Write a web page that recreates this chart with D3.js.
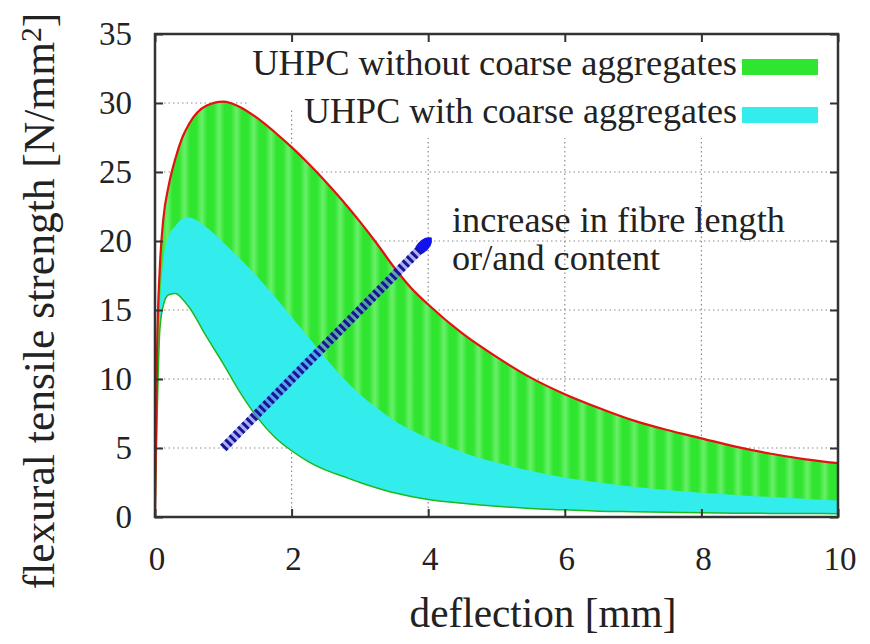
<!DOCTYPE html>
<html>
<head>
<meta charset="utf-8">
<script src="https://cdn.jsdelivr.net/npm/d3@7"></script>
<style>
  body { margin: 0; background: #fff; }
  svg { display: block; }
</style>
</head>
<body>
<div id="chart"></div>
<script>
// deflection [mm]
var deflection = [0, 0.03, 0.07, 0.12, 0.2, 0.3, 0.4, 0.5, 0.75, 1.0, 1.25, 1.5, 1.75, 2.0, 2.25, 2.5, 2.75, 3.0, 3.25, 3.5, 3.75, 4.0, 4.5, 5.0, 5.5, 6.0, 6.5, 7.0, 7.5, 8.0, 8.5, 9.0, 9.5, 10];
// upper envelope, without coarse aggregates (red line)
var upperStrength = [0, 12, 18, 21.5, 24, 26, 27.5, 28.5, 29.8, 30.1, 29.7, 28.9, 27.9, 26.8, 25.6, 24.3, 22.9, 21.4, 19.8, 18.1, 16.6, 15.4, 13.3, 11.6, 10.1, 8.9, 7.9, 7.0, 6.3, 5.7, 5.1, 4.6, 4.2, 3.9];
// upper envelope, with coarse aggregates
var middleStrength = [0, 8, 15, 18.5, 20.3, 21.1, 21.6, 21.7, 21.0, 19.9, 18.7, 17.4, 16.0, 14.5, 13.0, 11.5, 10.1, 8.9, 7.9, 7.0, 6.3, 5.7, 4.7, 3.95, 3.35, 2.85, 2.5, 2.2, 1.95, 1.75, 1.6, 1.45, 1.33, 1.2];
// lower envelope
var lowerStrength = [0, 7, 13.5, 15.3, 16.1, 16.2, 15.8, 15.2, 13.1, 11.1, 9.0, 7.2, 5.8, 4.8, 4.0, 3.4, 2.95, 2.5, 2.1, 1.75, 1.48, 1.27, 1.0, 0.78, 0.62, 0.52, 0.42, 0.38, 0.34, 0.3, 0.28, 0.26, 0.25, 0.24];

var xTicks = [0, 2, 4, 6, 8, 10];
var yTicks = [0, 5, 10, 15, 20, 25, 30, 35];
var legendLabels = ["UHPC without coarse aggregates", "UHPC with coarse aggregates"];
var noteLines = ["increase in fibre length", "or/and content"];
var arrowFrom = [1, 5];
var arrowTo = [4, 20];

var width = 870, height = 644;
var margin = { top: 34, right: 32, bottom: 127, left: 155 };
var green = "#30e530", greenLight = "#6af06a", cyan = "#33ecec";
var serif = "'Liberation Serif', 'DejaVu Serif', serif";

var data = deflection.map(function (d, i) {
    return { x: d, up: upperStrength[i], mid: middleStrength[i], low: lowerStrength[i] };
});

var svg = d3.select("#chart").append("svg")
    .attr("width", width)
    .attr("height", height)
    .attr("font-family", serif);

var x = d3.scaleLinear().domain([0, 10]).range([margin.left, width - margin.right]);
var y = d3.scaleLinear().domain([0, 35]).range([height - margin.bottom, margin.top]);

// scale a text's font so that it spans the wanted width
function fitWidth(sel, w) {
    var fs = +sel.attr("font-size");
    var cur = sel.node().getComputedTextLength();
    if (cur > 0) sel.attr("font-size", fs * w / cur);
    return sel;
}

// vertical stripe texture of the green fill
var defs = svg.append("defs");
var grad = defs.append("linearGradient").attr("id", "stripeGrad");
grad.append("stop").attr("offset", "0%").attr("stop-color", green);
grad.append("stop").attr("offset", "50%").attr("stop-color", greenLight);
grad.append("stop").attr("offset", "100%").attr("stop-color", green);
var pat = defs.append("pattern")
    .attr("id", "stripes")
    .attr("patternUnits", "userSpaceOnUse")
    .attr("x", 176).attr("y", 0)
    .attr("width", 17.3).attr("height", 20);
pat.append("rect").attr("width", 17.3).attr("height", 20).attr("fill", green);
pat.append("rect").attr("x", 3).attr("width", 11).attr("height", 20).attr("fill", "url(#stripeGrad)");

// grid
var grid = svg.append("g").attr("stroke", "#8a8a8a").attr("stroke-width", 1.2).attr("stroke-dasharray", "1.5,3");
grid.selectAll(".gx").data(xTicks.slice(1, -1)).enter().append("line")
    .attr("x1", function (d) { return x(d); }).attr("x2", function (d) { return x(d); })
    .attr("y1", y(35)).attr("y2", y(0));
grid.selectAll(".gy").data(yTicks.slice(1, -1)).enter().append("line")
    .attr("x1", x(0)).attr("x2", x(10))
    .attr("y1", function (d) { return y(d); }).attr("y2", function (d) { return y(d); });

// opaque legend backing
svg.append("rect").attr("x", 248).attr("y", 36).attr("width", 588).attr("height", 74).attr("fill", "#fff");
svg.append("rect").attr("x", 298).attr("y", 110).attr("width", 538).attr("height", 28).attr("fill", "#fff");

// filled bands
var areaGreen = d3.area().curve(d3.curveMonotoneX)
    .x(function (d) { return x(d.x); })
    .y0(function (d) { return y(d.low); })
    .y1(function (d) { return y(d.up); });
var areaCyan = d3.area().curve(d3.curveMonotoneX)
    .x(function (d) { return x(d.x); })
    .y0(function (d) { return y(d.low); })
    .y1(function (d) { return y(d.mid); });

svg.append("path").datum(data).attr("d", areaGreen).attr("fill", "url(#stripes)");
svg.append("path").datum(data).attr("d", areaCyan).attr("fill", cyan);

var lineUp = d3.line().curve(d3.curveMonotoneX)
    .x(function (d) { return x(d.x); }).y(function (d) { return y(d.up); });
var lineLow = d3.line().curve(d3.curveMonotoneX)
    .x(function (d) { return x(d.x); }).y(function (d) { return y(d.low); });
svg.append("path").datum(data).attr("d", lineLow).attr("fill", "none").attr("stroke", "#1fb81f").attr("stroke-width", 1.5);
svg.append("path").datum(data).attr("d", lineUp).attr("fill", "none").attr("stroke", "#e3120e").attr("stroke-width", 2.2);

// arrow
var ax0 = x(arrowFrom[0]), ay0 = y(arrowFrom[1]), ax1 = x(arrowTo[0]), ay1 = y(arrowTo[1]);
var len = Math.sqrt((ax1 - ax0) * (ax1 - ax0) + (ay1 - ay0) * (ay1 - ay0));
var ux = (ax1 - ax0) / len, uy = (ay1 - ay0) / len;
var bx = ax1 - ux * 10, by = ay1 - uy * 10;
svg.append("line")
    .attr("x1", ax0).attr("y1", ay0).attr("x2", bx).attr("y2", by)
    .attr("stroke", "#6a6af8").attr("stroke-opacity", 0.55).attr("stroke-width", 9);
svg.append("line")
    .attr("x1", ax0).attr("y1", ay0).attr("x2", bx).attr("y2", by)
    .attr("stroke", "#16168f").attr("stroke-width", 9).attr("stroke-dasharray", "3,3");
var tipX = ax1 + ux * 5, tipY = ay1 + uy * 5;
var baseX = ax1 - ux * 13, baseY = ay1 - uy * 13;
svg.append("path")
    .attr("d", "M" + tipX + "," + tipY +
        "Q" + (ax1 - uy * 8) + "," + (ay1 + ux * 8) + " " + (baseX - uy * 5) + "," + (baseY + ux * 5) +
        "L" + (baseX + uy * 5) + "," + (baseY - ux * 5) +
        "Q" + (ax1 + uy * 8) + "," + (ay1 - ux * 8) + " " + tipX + "," + tipY + "Z")
    .attr("fill", "#1212ee");

// border and ticks
svg.append("rect")
    .attr("x", x(0)).attr("y", y(35))
    .attr("width", x(10) - x(0)).attr("height", y(0) - y(35))
    .attr("fill", "none").attr("stroke", "#333").attr("stroke-width", 2.5);

var xAxis = d3.axisBottom(x).tickValues(xTicks).tickSize(-8).tickFormat("");
var xAxisTop = d3.axisTop(x).tickValues(xTicks).tickSize(-8).tickFormat("");
var yAxis = d3.axisLeft(y).tickValues(yTicks).tickSize(-8).tickFormat("");
var yAxisRight = d3.axisRight(y).tickValues(yTicks).tickSize(-8).tickFormat("");
[[xAxis, "translate(0," + y(0) + ")"], [xAxisTop, "translate(0," + y(35) + ")"],
 [yAxis, "translate(" + x(0) + ",0)"], [yAxisRight, "translate(" + x(10) + ",0)"]].forEach(function (a) {
    var g = svg.append("g").attr("transform", a[1]).call(a[0]);
    g.select(".domain").remove();
    g.selectAll("line").attr("stroke", "#333").attr("stroke-width", 2);
});

// tick labels
svg.selectAll(".xl").data(xTicks).enter().append("text")
    .attr("x", function (d) { return x(d) + 2; })
    .attr("y", 570)
    .attr("text-anchor", "middle")
    .attr("font-size", 33)
    .attr("fill", "#222")
    .text(function (d) { return d; });
svg.selectAll(".yl").data(yTicks).enter().append("text")
    .attr("x", 132)
    .attr("y", function (d) { return y(d) + 11; })
    .attr("text-anchor", "end")
    .attr("font-size", 33)
    .attr("fill", "#222")
    .text(function (d) { return d; });

// axis titles
fitWidth(svg.append("text")
    .attr("x", 543).attr("y", 627)
    .attr("text-anchor", "middle")
    .attr("font-size", 35)
    .attr("fill", "#222")
    .text("deflection [mm]"), 267);
var yt = svg.append("text")
    .attr("transform", "translate(54,301) rotate(-90)")
    .attr("text-anchor", "middle")
    .attr("font-size", 35)
    .attr("fill", "#222");
yt.append("tspan").text("flexural tensile strength [N/mm");
yt.append("tspan").attr("dy", -13).attr("font-size", "0.68em").text("2");
yt.append("tspan").attr("dy", 13).text("]");
fitWidth(yt, 577);

// legend
var legendColors = [green, cyan];
var legendBase = [75, 123];
var legendWidth = [485, 433];
legendLabels.forEach(function (t, i) {
    fitWidth(svg.append("text")
        .attr("x", 737).attr("y", legendBase[i])
        .attr("text-anchor", "end")
        .attr("font-size", 36)
        .attr("fill", "#222")
        .text(t), legendWidth[i]);
    svg.append("rect")
        .attr("x", 742).attr("y", legendBase[i] - 16)
        .attr("width", 76).attr("height", 16)
        .attr("fill", legendColors[i]);
});

// annotation
var note0 = fitWidth(svg.append("text")
    .attr("x", 452).attr("y", 232)
    .attr("font-size", 36)
    .attr("fill", "#222")
    .text(noteLines[0]), 333);
svg.append("text")
    .attr("x", 452).attr("y", 270)
    .attr("font-size", note0.attr("font-size"))
    .attr("fill", "#222")
    .text(noteLines[1]);
</script>
</body>
</html>
